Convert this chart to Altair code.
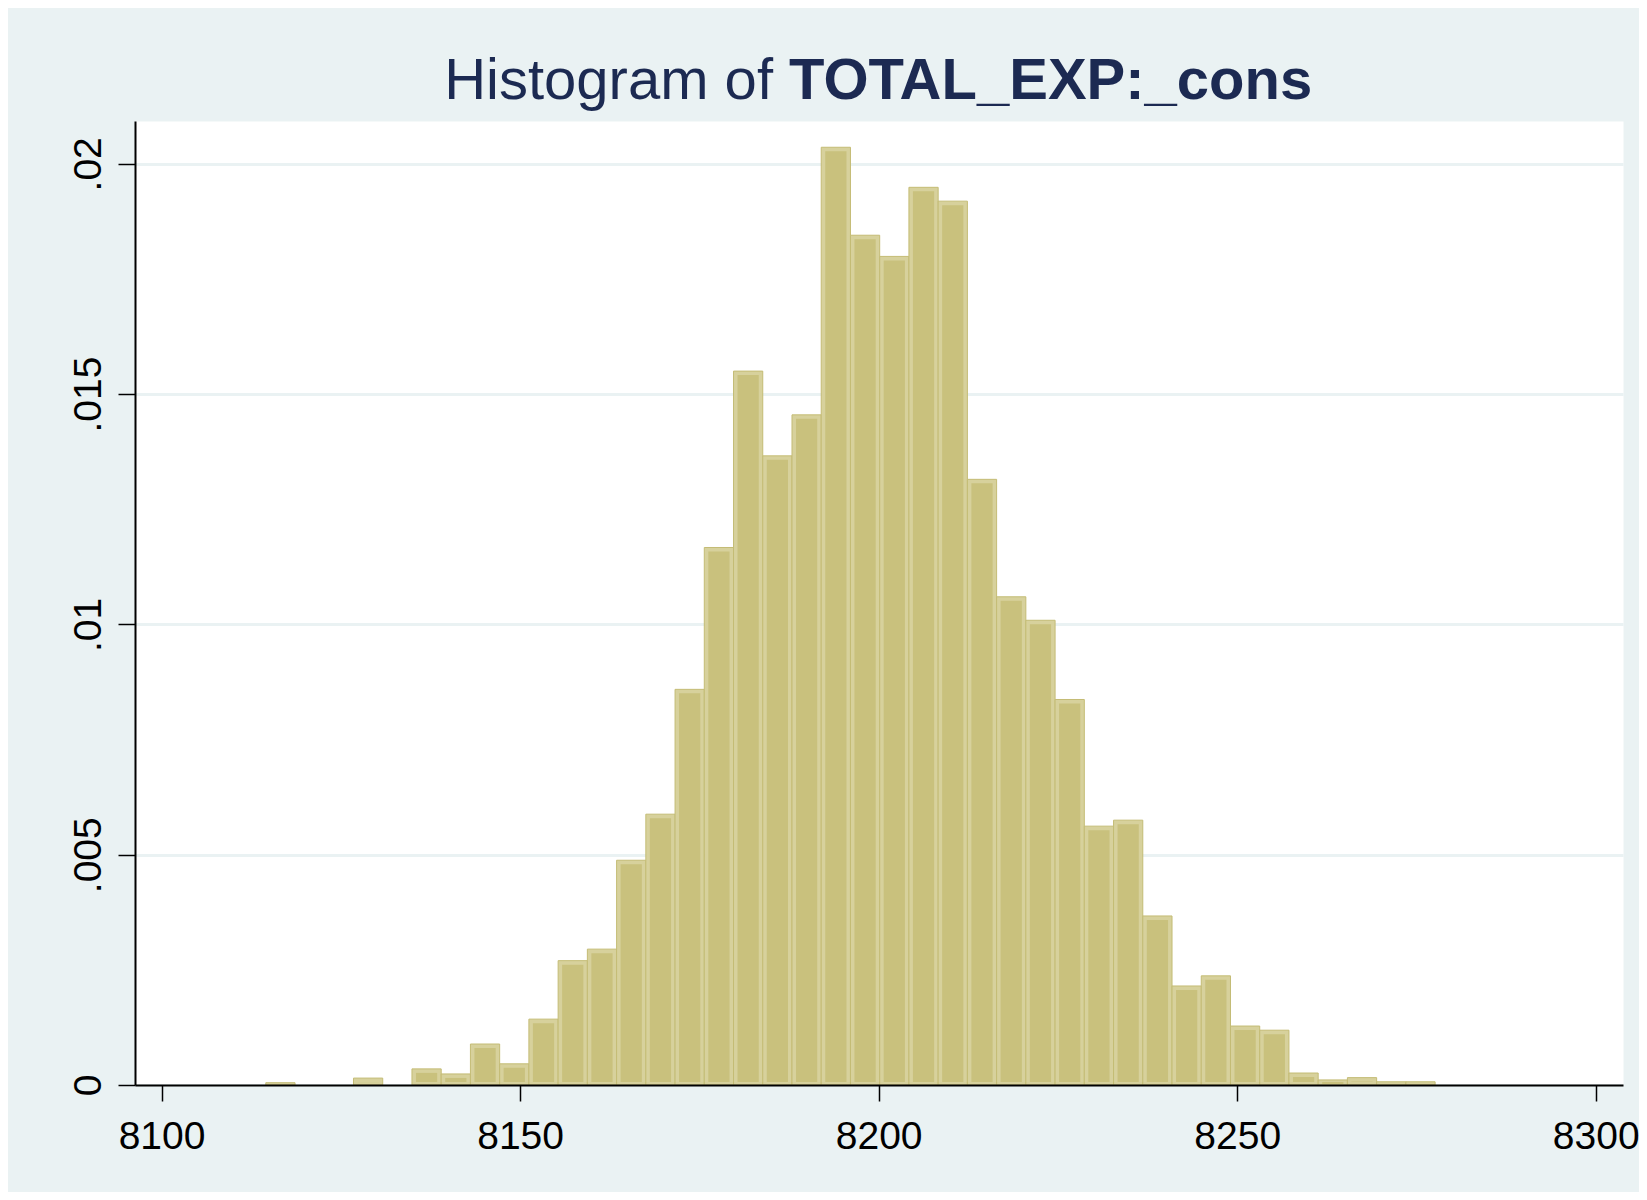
import altair as alt
import pandas as pd

# ---- data (Stata density histogram, 40 equal bins) ----
BIN_START = 8114.54
BIN_WIDTH = 4.0765
density = [
    0.00005, 0.0, 0.0, 0.00015, 0.0, 0.00035, 0.00024, 0.00089, 0.00046, 0.00143,
    0.00270, 0.00295, 0.00488, 0.00588, 0.00859, 0.01167, 0.01550, 0.01366, 0.01455, 0.02036,
    0.01845, 0.01799, 0.01949, 0.01919, 0.01315, 0.01060, 0.01009, 0.00837, 0.00562, 0.00575,
    0.00367, 0.00215, 0.00237, 0.00128, 0.00119, 0.00026, 0.00011, 0.00016, 0.00007, 0.00007,
]
x_ticks = [8100, 8150, 8200, 8250, 8300]
y_ticks = [0, 0.005, 0.01, 0.015, 0.02]
x_domain = [8096.3, 8303.8]
y_domain = [0, 0.02093]
title_regular = "Histogram of"
title_bold = "TOTAL_EXP:_cons"

bin_lo = [round(BIN_START + i * BIN_WIDTH, 4) for i in range(len(density))]
bin_hi = [round(BIN_START + (i + 1) * BIN_WIDTH, 4) for i in range(len(density))]

df = pd.DataFrame({"lo": bin_lo, "hi": bin_hi, "density": density})
df = df[df["density"] > 0]

# ---- styles ----
BG = "#EAF2F3"
BAR_INNER = "#C9C17D"
BAR_BAND = "#D7D19C"
BAR_EDGE = "#C4BC75"
TITLE_COLOR = "#1C2A52"
FONT = "Liberation Sans"

x_scale = alt.Scale(domain=x_domain, nice=False, zero=False)
y_scale = alt.Scale(domain=y_domain, nice=False, zero=False)

x_axis = alt.Axis(
    values=x_ticks, format="d", title=None, grid=False,
    tickSize=16, tickWidth=1.5, domainWidth=2, labelPadding=47,
    labelBaseline="alphabetic", zindex=1,
)
y_axis = alt.Axis(
    values=y_ticks, title=None, grid=True, gridColor=BG, gridWidth=3,
    tickSize=17, tickWidth=1.5, domainWidth=2, labelPadding=18,
    labelAngle=270, labelAlign="center", labelBaseline="alphabetic",
    labelExpr="datum.value == 0 ? '0' : replace(format(datum.value, '~g'), '0.', '.')",
    zindex=0,
)

base = alt.Chart(df).encode(
    x=alt.X("lo:Q", scale=x_scale, axis=x_axis),
    x2="hi:Q",
    y=alt.Y("density:Q", scale=y_scale, axis=y_axis),
    y2=alt.datum(0),
)

outer = base.mark_rect(fill=BAR_BAND, stroke=BAR_EDGE, strokeWidth=1)
inner = base.transform_filter("datum.density > 0.0001").mark_rect(
    fill=BAR_INNER, xOffset=4, x2Offset=-4, yOffset=4, y2Offset=-3
)

t1 = alt.Chart(pd.DataFrame({"t": [title_regular]})).mark_text(
    align="right", baseline="alphabetic", fontSize=58, font=FONT, color=TITLE_COLOR
).encode(x=alt.value(638), y=alt.value(-22), text="t:N")

t2 = alt.Chart(pd.DataFrame({"t": [title_bold]})).mark_text(
    align="left", baseline="alphabetic", fontSize=58, font=FONT, fontWeight="bold",
    color=TITLE_COLOR
).encode(x=alt.value(654), y=alt.value(-22), text="t:N")

chart = (
    alt.layer(outer, inner, t1, t2)
    .properties(
        width=1488, height=964,
        autosize=alt.AutoSizeParams(type="none"),
        padding={"left": 127, "top": 113, "right": 16, "bottom": 107},
        background=BG,
    )
    .configure_view(fill="white", stroke="transparent")
    .configure_axis(
        labelFont=FONT, labelFontSize=39, labelColor="black",
        tickColor="black", domainColor="black",
    )
)

chart.save("out.html", embed_options={"renderer": "svg", "actions": False})
